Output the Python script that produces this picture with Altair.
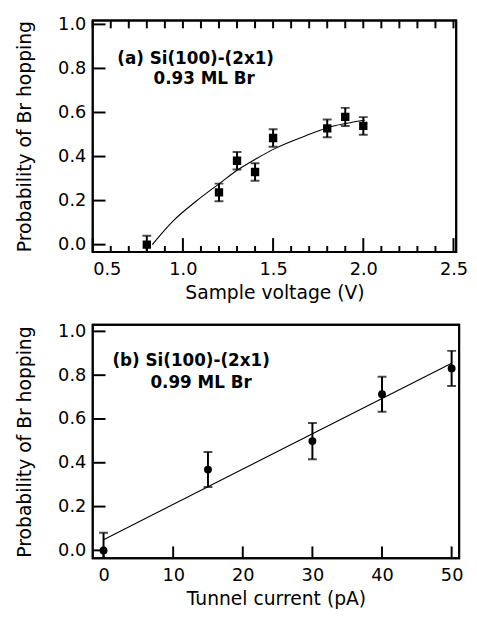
import altair as alt
import pandas as pd

# ---- Panel (a): hopping probability vs sample voltage ----
volt_x = [0.8, 1.2, 1.3, 1.4, 1.5, 1.8, 1.9, 2.0]
volt_y = [0.0, 0.237, 0.381, 0.33, 0.484, 0.528, 0.58, 0.539]
volt_err = [0.04, 0.04, 0.04, 0.04, 0.04, 0.04, 0.041, 0.04]
# fitted curve
volt_fit_x = [0.83, 0.945, 1.073, 1.2, 1.309, 1.409, 1.509, 1.709, 1.809, 1.909, 2.009]
volt_fit_y = [0.0, 0.107, 0.197, 0.276, 0.342, 0.391, 0.436, 0.503, 0.533, 0.551, 0.566]

# ---- Panel (b): hopping probability vs tunnel current ----
cur_x = [0, 15, 30, 40, 50]
cur_y = [0.0, 0.369, 0.499, 0.713, 0.831]
cur_err = [0.08, 0.08, 0.083, 0.08, 0.08]
cur_fit_x = [0, 50]
cur_fit_y = [0.049, 0.854]

# tick positions
a_x_major = [0.5, 1.0, 1.5, 2.0, 2.5]
a_x_minor = [0.6, 0.7, 0.8, 0.9, 1.1, 1.2, 1.3, 1.4, 1.6, 1.7, 1.8, 1.9, 2.1, 2.2, 2.3, 2.4]
a_x_top = [0.5, 0.6, 0.7, 0.8, 0.9, 1.0, 1.1, 1.2, 1.3, 1.4, 1.5, 1.6, 1.7, 1.8, 1.9,
           2.0, 2.1, 2.2, 2.3, 2.4, 2.5]
y_major = [0.0, 0.2, 0.4, 0.6, 0.8, 1.0]
b_x_major = [0, 10, 20, 30, 40, 50]

FONT = "DejaVu Sans"


def panel(px, py, perr, fx, fy, xdom, ydom, xvals, xfmt, xtitle, shape, msize,
          bottom_ticks, bottom_len, minor_ticks, top_ticks, text1, t1x, t1y,
          text2, t2x, t2y, W, H):
    xs = alt.Scale(domain=xdom, nice=False, zero=False)
    ys = alt.Scale(domain=ydom, nice=False, zero=False)
    xax = alt.Axis(values=xvals, format=xfmt, title=xtitle, labelPadding=9,
                   titlePadding=5)
    yax = alt.Axis(values=y_major, format=".1f", title="Probability of Br hopping",
                   labelPadding=7, titlePadding=24)

    pts = pd.DataFrame({"x": px, "y": py, "e": perr})
    pts["lo"] = pts["y"] - pts["e"]
    pts["hi"] = pts["y"] + pts["e"]
    fit = pd.DataFrame({"x": fx, "y": fy})

    layers = []
    # inward ticks (these layers also carry the axes)
    yt = pd.DataFrame({"v": y_major})
    layers.append(alt.Chart(yt).mark_rule(color="black", strokeWidth=2).encode(
        y=alt.Y("v:Q", scale=ys, axis=yax), x=alt.value(0), x2=alt.value(13)))
    bt = pd.DataFrame({"v": bottom_ticks})
    layers.append(alt.Chart(bt).mark_rule(color="black", strokeWidth=2).encode(
        x=alt.X("v:Q", scale=xs, axis=xax), y=alt.value(H), y2=alt.value(H - bottom_len)))
    if minor_ticks:
        mt = pd.DataFrame({"v": minor_ticks})
        layers.append(alt.Chart(mt).mark_rule(color="black", strokeWidth=2).encode(
            x="v:Q", y=alt.value(H), y2=alt.value(H - 6)))
    if top_ticks:
        tt = pd.DataFrame({"v": top_ticks})
        layers.append(alt.Chart(tt).mark_rule(color="black", strokeWidth=2).encode(
            x="v:Q", y=alt.value(0), y2=alt.value(8)))
    # frame
    fr = pd.DataFrame({"k": [1]})
    layers.append(alt.Chart(fr).mark_rect(fillOpacity=0, stroke="black",
                                          strokeWidth=2).encode(
        x=alt.value(0), x2=alt.value(W), y=alt.value(0), y2=alt.value(H)))

    base = alt.Chart(pts)
    layers.append(alt.Chart(fit).mark_line(color="black", strokeWidth=1.1, clip=True,
                                           interpolate="monotone").encode(
        x="x:Q", y="y:Q"))
    layers.append(base.mark_rule(color="black", strokeWidth=2, clip=True).encode(
        x="x:Q", y="lo:Q", y2="hi:Q"))
    layers.append(base.mark_tick(color="black", thickness=2, size=9, orient="horizontal",
                                 clip=True).encode(x="x:Q", y="lo:Q"))
    layers.append(base.mark_tick(color="black", thickness=2, size=9, orient="horizontal",
                                 clip=True).encode(x="x:Q", y="hi:Q"))
    layers.append(base.mark_point(shape=shape, filled=True, size=msize, color="black",
                                  opacity=1, clip=True).encode(x="x:Q", y="y:Q"))

    l1 = pd.DataFrame({"x": [t1x], "y": [t1y], "t": [text1]})
    l2 = pd.DataFrame({"x": [t2x], "y": [t2y], "t": [text2]})
    layers.append(alt.Chart(l1).mark_text(font=FONT, fontWeight="bold", fontSize=17,
                                          align="left", baseline="middle",
                                          color="black").encode(x="x:Q", y="y:Q", text="t:N"))
    layers.append(alt.Chart(l2).mark_text(font=FONT, fontWeight="bold", fontSize=17,
                                          align="center", baseline="middle",
                                          color="black").encode(x="x:Q", y="y:Q", text="t:N"))
    return alt.layer(*layers).properties(width=W, height=H)


pa = panel(volt_x, volt_y, volt_err, volt_fit_x, volt_fit_y, [0.5, 2.515], [-0.033, 1.018],
           a_x_major, ".1f", "Sample voltage (V)", "square", 72,
           a_x_major, 14, a_x_minor, a_x_top,
           "(a) Si(100)-(2x1)", 0.636, 0.843, "0.93 ML Br", 1.118, 0.752, 369, 235)

pb = panel(cur_x, cur_y, cur_err, cur_fit_x, cur_fit_y, [-1.556, 51.08], [-0.036, 1.03],
           b_x_major, "d", "Tunnel current (pA)", "circle", 64,
           b_x_major, 12, None, None,
           "(b) Si(100)-(2x1)", 1.27, 0.864, "0.99 ML Br", 14.0, 0.764, 372, 237)

chart = alt.vconcat(pa, pb, spacing=74, bounds="flush").properties(
    padding={"left": 6, "top": 2, "right": 0, "bottom": 2}
).configure_view(stroke="black", strokeWidth=2).configure_axis(
    grid=False, domain=False, ticks=False, tickSize=0,
    labelFont=FONT, labelFontSize=18, labelColor="black",
    titleFont=FONT, titleFontSize=19, titleFontWeight="normal", titleColor="black",
)

chart.save("out.html", embed_options={"renderer": "svg", "actions": False})
